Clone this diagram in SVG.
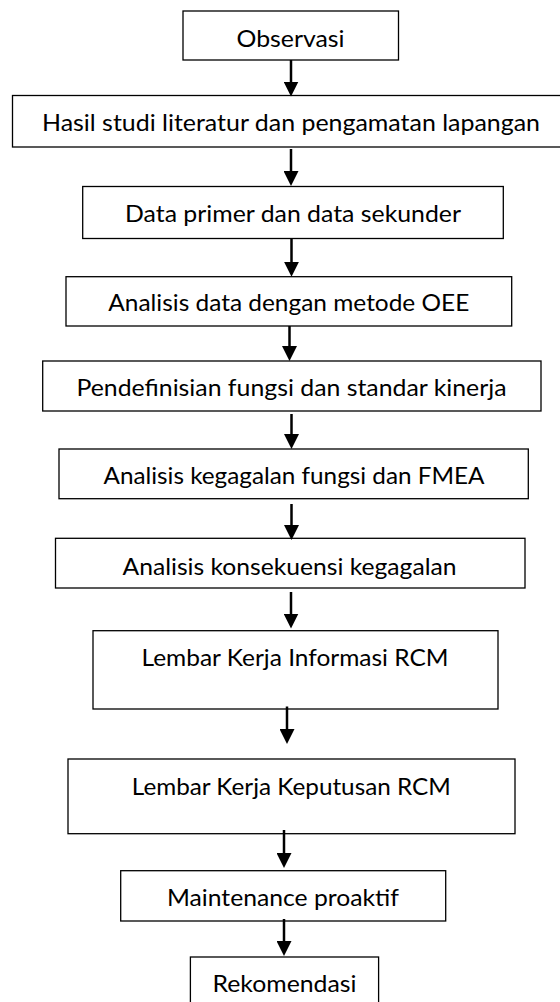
<svg xmlns="http://www.w3.org/2000/svg" width="560" height="1002" viewBox="0 0 560 1002">
  <style>
    .box { fill: #fff; stroke: #000; stroke-width: 1.3; }
    .lbl { font-family: Lato, "Open Sans", "Liberation Sans", sans-serif; font-size: 24px; fill: #000; text-anchor: middle; }
    .conn { stroke: #000; stroke-width: 2.5; fill: none; marker-end: url(#arrow); }
  </style>
  <defs>
    <marker id="arrow" markerUnits="userSpaceOnUse" markerWidth="15" markerHeight="15" refX="5" refY="7.5" orient="auto">
      <path d="M0,0 L15,7.5 L0,15 z" fill="#000"/>
    </marker>
  </defs>
  <rect width="560" height="1002" fill="#fff"/>

  <g id="n1"><rect class="box" x="183" y="11" width="215.5" height="49"/><text class="lbl" x="290.5" y="47" textLength="108" lengthAdjust="spacingAndGlyphs">Observasi</text></g>
  <g id="n2"><rect class="box" x="12.5" y="95.5" width="560" height="51.5"/><text class="lbl" x="291" y="131" textLength="498" lengthAdjust="spacingAndGlyphs">Hasil studi literatur dan pengamatan lapangan</text></g>
  <g id="n3"><rect class="box" x="82.7" y="186.5" width="420.6" height="52"/><text class="lbl" x="293" y="221.5" textLength="336" lengthAdjust="spacingAndGlyphs">Data primer dan data sekunder</text></g>
  <g id="n4"><rect class="box" x="66" y="276.7" width="445.7" height="49.3"/><text class="lbl" x="288.8" y="311" textLength="361" lengthAdjust="spacingAndGlyphs">Analisis data dengan metode OEE</text></g>
  <g id="n5"><rect class="box" x="42.7" y="361" width="498.3" height="50"/><text class="lbl" x="291.5" y="396" textLength="430" lengthAdjust="spacingAndGlyphs">Pendefinisian fungsi dan standar kinerja</text></g>
  <g id="n6"><rect class="box" x="59" y="449" width="469.3" height="49.7"/><text class="lbl" x="294" y="484" textLength="381" lengthAdjust="spacingAndGlyphs">Analisis kegagalan fungsi dan FMEA</text></g>
  <g id="n7"><rect class="box" x="55.5" y="538.3" width="469.5" height="49.7"/><text class="lbl" x="289.5" y="575" textLength="334" lengthAdjust="spacingAndGlyphs">Analisis konsekuensi kegagalan</text></g>
  <g id="n8"><rect class="box" x="93" y="630.7" width="405" height="78.3"/><text class="lbl" x="295" y="666" textLength="307" lengthAdjust="spacingAndGlyphs">Lembar Kerja Informasi RCM</text></g>
  <g id="n9"><rect class="box" x="68" y="759" width="447" height="74.7"/><text class="lbl" x="291.3" y="795" textLength="319" lengthAdjust="spacingAndGlyphs">Lembar Kerja Keputusan RCM</text></g>
  <g id="n10"><rect class="box" x="120.7" y="870.7" width="325" height="50.3"/><text class="lbl" x="283" y="906" textLength="232" lengthAdjust="spacingAndGlyphs">Maintenance proaktif</text></g>
  <g id="n11"><rect class="box" x="190.4" y="957" width="188.2" height="60"/><text class="lbl" x="284.5" y="992" textLength="144" lengthAdjust="spacingAndGlyphs">Rekomendasi</text></g>

  <g id="connectors">
    <line class="conn" x1="291" y1="60" x2="291" y2="86.5"/>
    <line class="conn" x1="291" y1="149" x2="291" y2="176"/>
    <line class="conn" x1="291.5" y1="238.5" x2="291.5" y2="266.7"/>
    <line class="conn" x1="289.5" y1="326" x2="289.5" y2="351"/>
    <line class="conn" x1="291.5" y1="414" x2="291.5" y2="439"/>
    <line class="conn" x1="291.5" y1="504" x2="291.5" y2="530"/>
    <line class="conn" x1="291" y1="592" x2="291" y2="618.5"/>
    <line class="conn" x1="287" y1="706.5" x2="287" y2="734"/>
    <line class="conn" x1="284" y1="830" x2="284" y2="858"/>
    <line class="conn" x1="284" y1="919" x2="284" y2="946"/>
  </g>
</svg>
